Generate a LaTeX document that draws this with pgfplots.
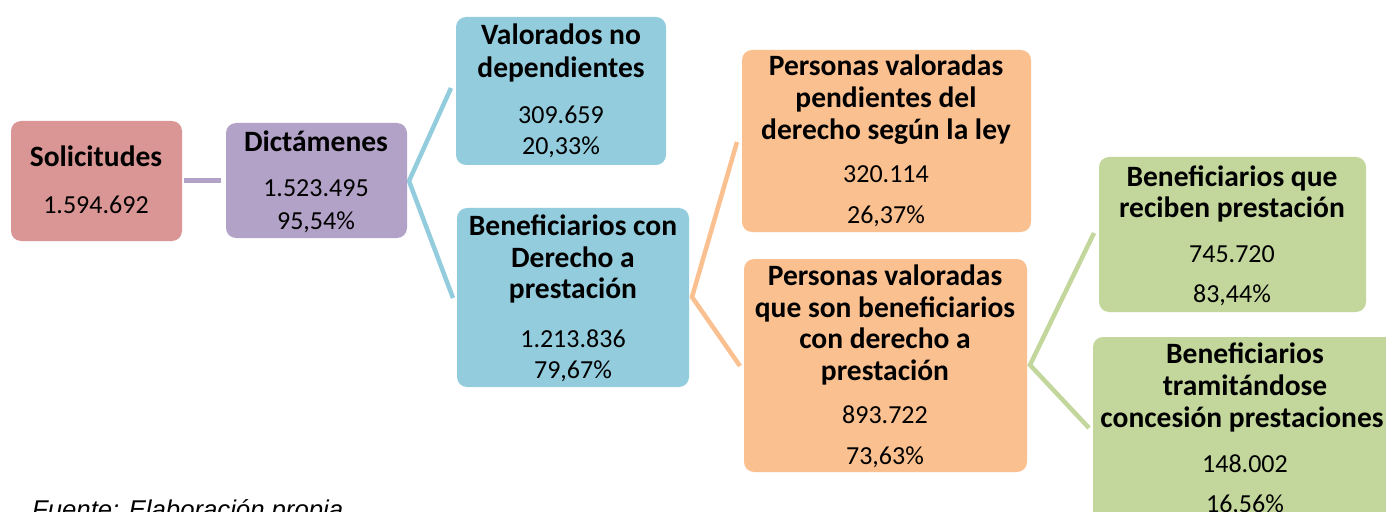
\documentclass[border=0pt]{standalone}
\usepackage{pgfplots}
\pgfplotsset{compat=1.18}
\usepackage{fontspec}
\setmainfont{Carlito}
\newfontfamily\arialfont{Liberation Sans}
\definecolor{cRed}{HTML}{D99694}
\definecolor{cPurple}{HTML}{B3A2C7}
\definecolor{cBlue}{HTML}{93CDDD}
\definecolor{cOrange}{HTML}{FAC090}
\definecolor{cGreen}{HTML}{C3D69B}
\tikzset{
  bt/.style={anchor=base,inner sep=0pt,font=\bfseries\fontsize{29.5bp}{32bp}\selectfont},
  nt/.style={anchor=base,inner sep=0pt,font=\fontsize{26bp}{30bp}\selectfont},
  box/.style={rounded corners=10bp}
}
\begin{document}
\begin{tikzpicture}
\begin{axis}[width=1386bp,height=512bp,scale only axis,
  xmin=0,xmax=1386,ymin=0,ymax=512,y dir=reverse,
  axis lines=none,clip=false]
% connectors
\addplot[cPurple, line width=5bp] coordinates {(184,181) (221,181)};
\addplot[cBlue, line width=4.5bp] coordinates {(451,88) (409,181) (453,298)};
\addplot[cOrange, line width=4.5bp] coordinates {(737,142) (692,297) (740,366)};
\addplot[cGreen, line width=4.5bp] coordinates {(1094,233) (1030,365) (1089,428)};
% boxes
\fill[cRed, box] (axis cs:11,121) rectangle (axis cs:182,241);
\fill[cPurple, box] (axis cs:226,123) rectangle (axis cs:407,238);
\fill[cBlue, box] (axis cs:456,17) rectangle (axis cs:666,165);
\fill[cBlue, box] (axis cs:457,208) rectangle (axis cs:689,387);
\fill[cOrange, box] (axis cs:742,50) rectangle (axis cs:1031,232);
\fill[cOrange, box] (axis cs:744,259) rectangle (axis cs:1027,472);
\fill[cGreen, box] (axis cs:1099,157) rectangle (axis cs:1366,312);
\fill[cGreen, box] (axis cs:1093,337) rectangle (axis cs:1398,540);
% texts
\node[bt] at (axis cs:96,167) {Solicitudes};
\node[nt] at (axis cs:96,213) {1.594.692};
\node[bt] at (axis cs:316,152) {Dictámenes};
\node[nt] at (axis cs:316,197) {1.523.495};
\node[nt] at (axis cs:316,229) {95,54\%};
\node[bt] at (axis cs:561,45) {Valorados no};
\node[bt] at (axis cs:561,78) {dependientes};
\node[nt] at (axis cs:561,124) {309.659};
\node[nt] at (axis cs:561,155) {20,33\%};
\node[bt] at (axis cs:573,235) {Beneficiarios con};
\node[bt] at (axis cs:573,267) {Derecho a};
\node[bt] at (axis cs:573,298) {prestación};
\node[nt] at (axis cs:573,347) {1.213.836};
\node[nt] at (axis cs:573,378) {79,67\%};
\node[bt] at (axis cs:886,76) {Personas valoradas};
\node[bt] at (axis cs:886,108) {pendientes del};
\node[bt] at (axis cs:886,140) {derecho según la ley};
\node[nt] at (axis cs:886,183) {320.114};
\node[nt] at (axis cs:886,223) {26,37\%};
\node[bt] at (axis cs:885,285) {Personas valoradas};
\node[bt] at (axis cs:885,317) {que son beneficiarios};
\node[bt] at (axis cs:885,348) {con derecho a};
\node[bt] at (axis cs:885,380) {prestación};
\node[nt] at (axis cs:885,423) {893.722};
\node[nt] at (axis cs:885,464) {73,63\%};
\node[bt] at (axis cs:1232,187) {Beneficiarios que};
\node[bt] at (axis cs:1232,217) {reciben prestación};
\node[nt] at (axis cs:1232,262) {745.720};
\node[nt] at (axis cs:1232,302) {83,44\%};
\node[bt] at (axis cs:1245,363) {Beneficiarios};
\node[bt] at (axis cs:1245,395) {tramitándose};
\node[bt] at (axis cs:1242,427) {concesión prestaciones};
\node[nt] at (axis cs:1245,472) {148.002};
\node[nt] at (axis cs:1245,512) {16,56\%};
\node[anchor=base west,inner sep=0pt,font=\arialfont\itshape\fontsize{25.7bp}{30bp}\selectfont] at (axis cs:32,518) {Fuente: Elaboración propia};
\coordinate (ll) at (axis cs:0,512);
\coordinate (ur) at (axis cs:1386,0);
\end{axis}
\pgfresetboundingbox
\path[use as bounding box] (ll) rectangle (ur);
\end{tikzpicture}
\end{document}
